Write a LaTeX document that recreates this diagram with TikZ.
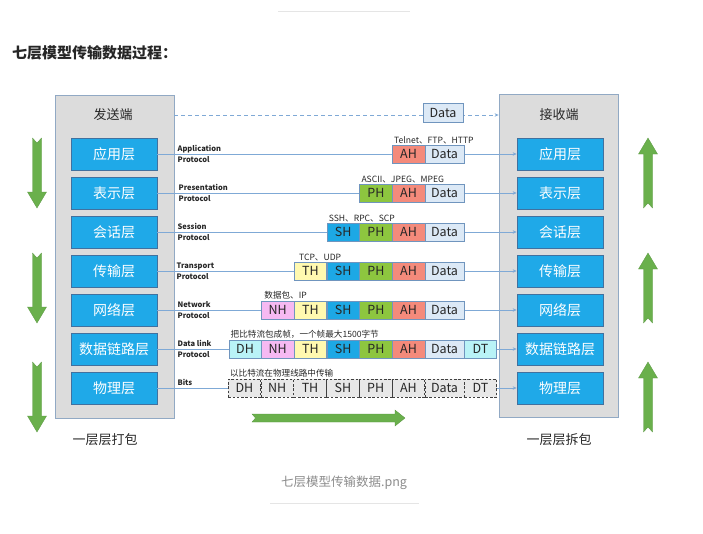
\documentclass[tikz,border=0pt]{standalone}
\usepackage{fontspec}
\setmainfont{Noto Sans CJK SC}
\usepackage{xcolor}
\usepackage{tikz}
\usetikzlibrary{arrows.meta, positioning, calc}
\definecolor{panelgray}{HTML}{DCDCDC}
\definecolor{panelline}{HTML}{91A9C4}
\definecolor{layerblue}{HTML}{1FA9E8}
\definecolor{layerline}{HTML}{41719F}
\definecolor{linkblue}{HTML}{7FA9D6}
\definecolor{cellline}{HTML}{7095BE}
\definecolor{datafill}{HTML}{DCE9F6}
\definecolor{cAH}{HTML}{F48A7B}
\definecolor{cPH}{HTML}{8DC63F}
\definecolor{cSH}{HTML}{1DA8E5}
\definecolor{cTH}{HTML}{FFF9B0}
\definecolor{cNH}{HTML}{F6B9F2}
\definecolor{cDH}{HTML}{B9F3F7}
\definecolor{arrowgreen}{HTML}{6AB04C}
\definecolor{textdark}{HTML}{262626}

\begin{document}
\begin{tikzpicture}[
    x=1pt, y=-1pt,
    panel/.style={rectangle, draw=panelline, fill=panelgray, line width=0.8pt, minimum width=119, minimum height=323},
    layer/.style={rectangle, draw=layerline, fill=layerblue, line width=0.7pt, minimum width=86, minimum height=32, text=white, font=\fontsize{14}{15}\selectfont},
    cell/.style={rectangle, draw=cellline, line width=0.6pt, minimum width=32.5, minimum height=18, inner sep=0pt, text=textdark, font=\fontsize{12.5}{13}\selectfont},
    datacell/.style={cell, fill=datafill, minimum width=39},
    bitcell/.style={cell, draw=black!75, fill=black!9, dashed, dash pattern=on 2.5pt off 1.8pt, line width=0.7pt},
    proto/.style={anchor=west, align=left, inner sep=0pt, text=textdark, font=\fontsize{7.5}{11}\selectfont\bfseries},
    note/.style={anchor=south west, inner sep=1pt, xshift=1pt, text=textdark, font=\fontsize{8.6}{9}\selectfont},
    label/.style={text=textdark, font=\fontsize{13}{14}\selectfont},
    link/.style={-{Stealth[length=4pt, width=3.5pt]}, draw=linkblue, line width=0.8pt},
    greenarrow/.style={fill=arrowgreen, draw=arrowgreen!85!black, line width=0.3pt}
]
    \useasboundingbox (0,0) rectangle (703,533);

    % page decoration
    \draw[black!10, line width=0.8pt] (278,11) -- (410,11);
    \draw[black!10, line width=0.8pt] (270,503) -- (419,503);
    \node[anchor=west, inner sep=0pt, text=textdark, font=\fontsize{15}{16}\selectfont\bfseries] (title) at (12,53) {七层模型传输数据过程：};
    \node[text=black!45, font=\fontsize{12.5}{13}\selectfont] (caption) at (344,483) {七层模型传输数据.png};

    % sender and receiver
    \node[panel] (send) at (114.5,256.5) {};
    \node[panel] (recv) at (558.5,256) {};
    \node[label] (sendlbl) at (113,115) {发送端};
    \node[label] (recvlbl) at (559,115) {接收端};
    \node[label] (pack) at (105,440) {一层层打包};
    \node[label] (unpack) at (559,440) {一层层拆包};

    \foreach \i/\name in {1/应用层, 2/表示层, 3/会话层, 4/传输层, 5/网络层, 6/数据链路层, 7/物理层} {
        \node[layer] (s\i) at (114,115+39*\i) {\name};
        \node[layer] (r\i) at (560,115+39*\i) {\name};
    }

    % links
    \draw[link, dashed, dash pattern=on 4pt off 3pt] (send.east |- sendlbl) -- (recv.west |- sendlbl);
    \node[cell, fill=datafill, minimum width=40, minimum height=19] (topdata) at (443,112.5) {Data};
    \foreach \i in {1,...,7}
        \draw[link] (s\i) -- (r\i);

    % protocol labels
    \node[proto] (p1) at ([xshift=3pt]send.east |- s1) {Application\\Protocol};
    \node[proto] (p2) at ([xshift=4pt]send.east |- s2) {Presentation\\Protocol};
    \node[proto] (p3) at ([xshift=3pt]send.east |- s3) {Session\\Protocol};
    \node[proto] (p4) at ([xshift=2pt]send.east |- s4) {Transport\\Protocol};
    \node[proto] (p5) at ([xshift=3pt]send.east |- s5) {Network\\Protocol};
    \node[proto] (p6) at ([xshift=3pt]send.east |- s6) {Data link\\Protocol};
    \node[proto, anchor=base west] (p7) at ([xshift=3pt, yshift=3pt]send.east |- s7) {Bits};

    % packets
    \coordinate (datax) at (444.5,0);
    \foreach \r/\hs in {1/{AH}, 2/{AH,PH}, 3/{AH,PH,SH}, 4/{AH,PH,SH,TH}, 5/{AH,PH,SH,TH,NH}, 6/{AH,PH,SH,TH,NH,DH}} {
        \node[datacell] (D\r) at (s\r -| datax) {Data};
        \foreach \h [remember=\h as \last (initially D)] in \hs
            \node[cell, fill=c\h, left=-0.4pt of \last\r] (\h\r) {\h};
    }
    \node[cell, fill=cDH, right=-0.4pt of D6] (DT6) {DT};

    \node[bitcell, minimum width=39] (D7) at (s7 -| datax) {Data};
    \foreach \h [remember=\h as \last (initially D)] in {AH,PH,SH,TH,NH,DH}
        \node[bitcell, left=-0.4pt of \last7] (\h7) {\h};
    \node[bitcell, right=-0.4pt of D7] (DT7) {DT};

    % notes above packets
    \node[note] (n1) at (AH1.north west) {Telnet、FTP、HTTP};
    \node[note] (n2) at (PH2.north west) {ASCII、JPEG、MPEG};
    \node[note] (n3) at (SH3.north west) {SSH、RPC、SCP};
    \node[note] (n4) at ([xshift=3pt]TH4.north west) {TCP、UDP};
    \node[note] (n5) at ([xshift=1pt]NH5.north west) {数据包、IP};
    \node[note] (n6) at (DH6.north west) {把比特流包成帧，一个帧最大1500字节};
    \node[note] (n7) at (DH7.north west) {以比特流在物理线路中传输};

    % green arrows
    \foreach \t in {138,253,362}
        \draw[greenarrow] (32.5,\t) -- (37,\t+5) -- (41.5,\t) -- (41.5,\t+54) -- (46.5,\t+54) -- (37,\t+70) -- (27.5,\t+54) -- (32.5,\t+54) -- cycle;
    \foreach \t in {138,253,362}
        \draw[greenarrow] (648,\t) -- (657.5,\t+16) -- (652.5,\t+16) -- (652.5,\t+70) -- (648,\t+65) -- (643.5,\t+70) -- (643.5,\t+16) -- (638.5,\t+16) -- cycle;
    \draw[greenarrow] (252,414) -- (395,414) -- (395,410) -- (405,418) -- (395,426) -- (395,422) -- (252,422) -- (255.5,418) -- cycle;
\end{tikzpicture}
\end{document}
